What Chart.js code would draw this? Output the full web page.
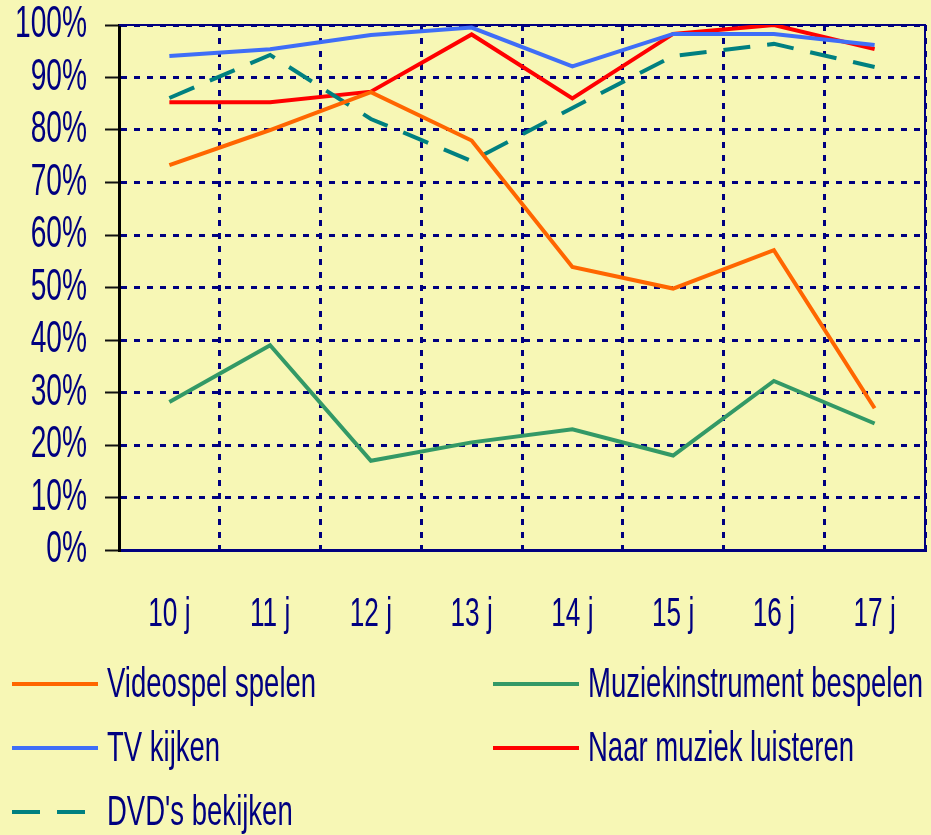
<!DOCTYPE html>
<html>
<head>
<meta charset="utf-8">
<script src="https://cdn.jsdelivr.net/npm/chart.js@4/dist/chart.umd.min.js"></script>
<style>
  html, body { margin: 0; padding: 0; background: #f7f7b5; }
  #wrap { width: 931px; height: 835px; position: relative; }
</style>
</head>
<body>
<div id="wrap"><canvas id="c" width="931" height="835"></canvas></div>
<script>
const categories = ['10 j', '11 j', '12 j', '13 j', '14 j', '15 j', '16 j', '17 j'];
const videospelSpelen = [73.3, 80, 87.2, 78, 53.9, 49.8, 57.1, 27];
const tvKijken = [94.1, 95.4, 98.1, 99.5, 92.1, 98.3, 98.3, 96.2];
const dvdBekijken = [86.1, 94.3, 82.1, 74.1, 84.2, 94.1, 96.4, 92];
const muziekinstrumentBespelen = [28.2, 39, 17, 20.5, 23, 18, 32.2, 24.1];
const naarMuziekLuisteren = [85.3, 85.3, 87.3, 98.2, 86, 98.3, 100, 95.4];
const yTickValues = [0, 10, 20, 30, 40, 50, 60, 70, 80, 90, 100];

const FONT = "'Liberation Sans', Arial, sans-serif";
const TEXT_SQUEEZE = 0.64;
const NAVY = '#000080';

const legendOrder = [
  { idx: 0, col: 0, row: 0 },
  { idx: 3, col: 1, row: 0 },
  { idx: 1, col: 0, row: 1 },
  { idx: 4, col: 1, row: 1 },
  { idx: 2, col: 0, row: 2 }
];

// condensed look: draw all canvas text narrower
const condensePlugin = {
  id: 'condense',
  beforeInit(chart) {
    const ctx = chart.ctx;
    const orig = ctx.fillText.bind(ctx);
    ctx.fillText = function (t, x, y, mw) {
      this.save();
      this.translate(x, y);
      this.scale(TEXT_SQUEEZE, 1);
      orig(t, 0, 0);
      this.restore();
    };
  }
};

const framePlugin = {
  id: 'frame',
  beforeDatasetsDraw(chart) {
    const { ctx, chartArea: a } = chart;
    ctx.save();
    ctx.strokeStyle = NAVY;
    ctx.lineWidth = 2;
    ctx.beginPath();
    ctx.moveTo(a.left, a.top);
    ctx.lineTo(a.right, a.top);
    ctx.lineTo(a.right, a.bottom);
    ctx.stroke();
    ctx.restore();
  },
  afterDraw(chart) {
    const { ctx } = chart;
    const ds = chart.data.datasets;
    const colX = [12, 493];
    const rowY = [684, 748, 812];
    ctx.save();
    ctx.font = "43px " + FONT;
    ctx.textBaseline = 'middle';
    ctx.textAlign = 'left';
    legendOrder.forEach(it => {
      const d = ds[it.idx];
      const x = colX[it.col], y = rowY[it.row];
      ctx.strokeStyle = d.borderColor;
      ctx.lineWidth = 4;
      ctx.setLineDash(d.borderDash ? [28, 17] : []);
      ctx.beginPath();
      ctx.moveTo(x, y);
      ctx.lineTo(x + 86, y);
      ctx.stroke();
      ctx.setLineDash([]);
      ctx.fillStyle = NAVY;
      ctx.fillText(d.label, x + 95, y + 1);
    });
    ctx.restore();
  }
};

new Chart(document.getElementById('c'), {
  type: 'line',
  data: {
    labels: categories,
    datasets: [
      { label: 'Videospel spelen', data: videospelSpelen, borderColor: '#ff6600' },
      { label: 'TV kijken', data: tvKijken, borderColor: '#3f6ef7' },
      { label: "DVD's bekijken", data: dvdBekijken, borderColor: '#008080', borderDash: [27, 17] },
      { label: 'Muziekinstrument bespelen', data: muziekinstrumentBespelen, borderColor: '#339966' },
      { label: 'Naar muziek luisteren', data: naarMuziekLuisteren, borderColor: '#ff0000' }
    ]
  },
  options: {
    responsive: false,
    animation: false,
    devicePixelRatio: 1,
    layout: { padding: { top: 25, right: 6, bottom: 200, left: 0 } },
    elements: {
      line: { borderWidth: 4, tension: 0, fill: false, borderCapStyle: 'butt', borderJoinStyle: 'miter' },
      point: { radius: 0, hoverRadius: 0 }
    },
    plugins: { legend: { display: false }, tooltip: { enabled: false } },
    scales: {
      x: {
        offset: true,
        grid: { offset: true, color: NAVY, lineWidth: 3, drawTicks: false },
        border: { display: true, color: NAVY, width: 3, dash: [6, 7] },
        ticks: { color: NAVY, font: { family: FONT, size: 41 }, padding: 40, autoSkip: false, maxRotation: 0 },
        afterFit(scale) { scale.height = 85; scale.paddingLeft = 0; scale.paddingRight = 0; }
      },
      y: {
        min: 0, max: 100,
        afterBuildTicks(scale) { scale.ticks = yTickValues.map(v => ({ value: v })); },
        grid: { color: NAVY, lineWidth: 3, drawTicks: true, tickLength: 14, tickColor: '#111', tickWidth: 2, tickBorderDash: [] },
        border: { display: true, color: '#000', width: 3, dash: [6, 7] },
        ticks: { color: NAVY, font: { family: FONT, size: 44 }, padding: 18, autoSkip: false, callback: v => v + '%' },
        afterFit(scale) { scale.width = 119; scale.paddingTop = 0; scale.paddingBottom = 0; }
      }
    }
  },
  plugins: [condensePlugin, framePlugin]
});
</script>
</body>
</html>
